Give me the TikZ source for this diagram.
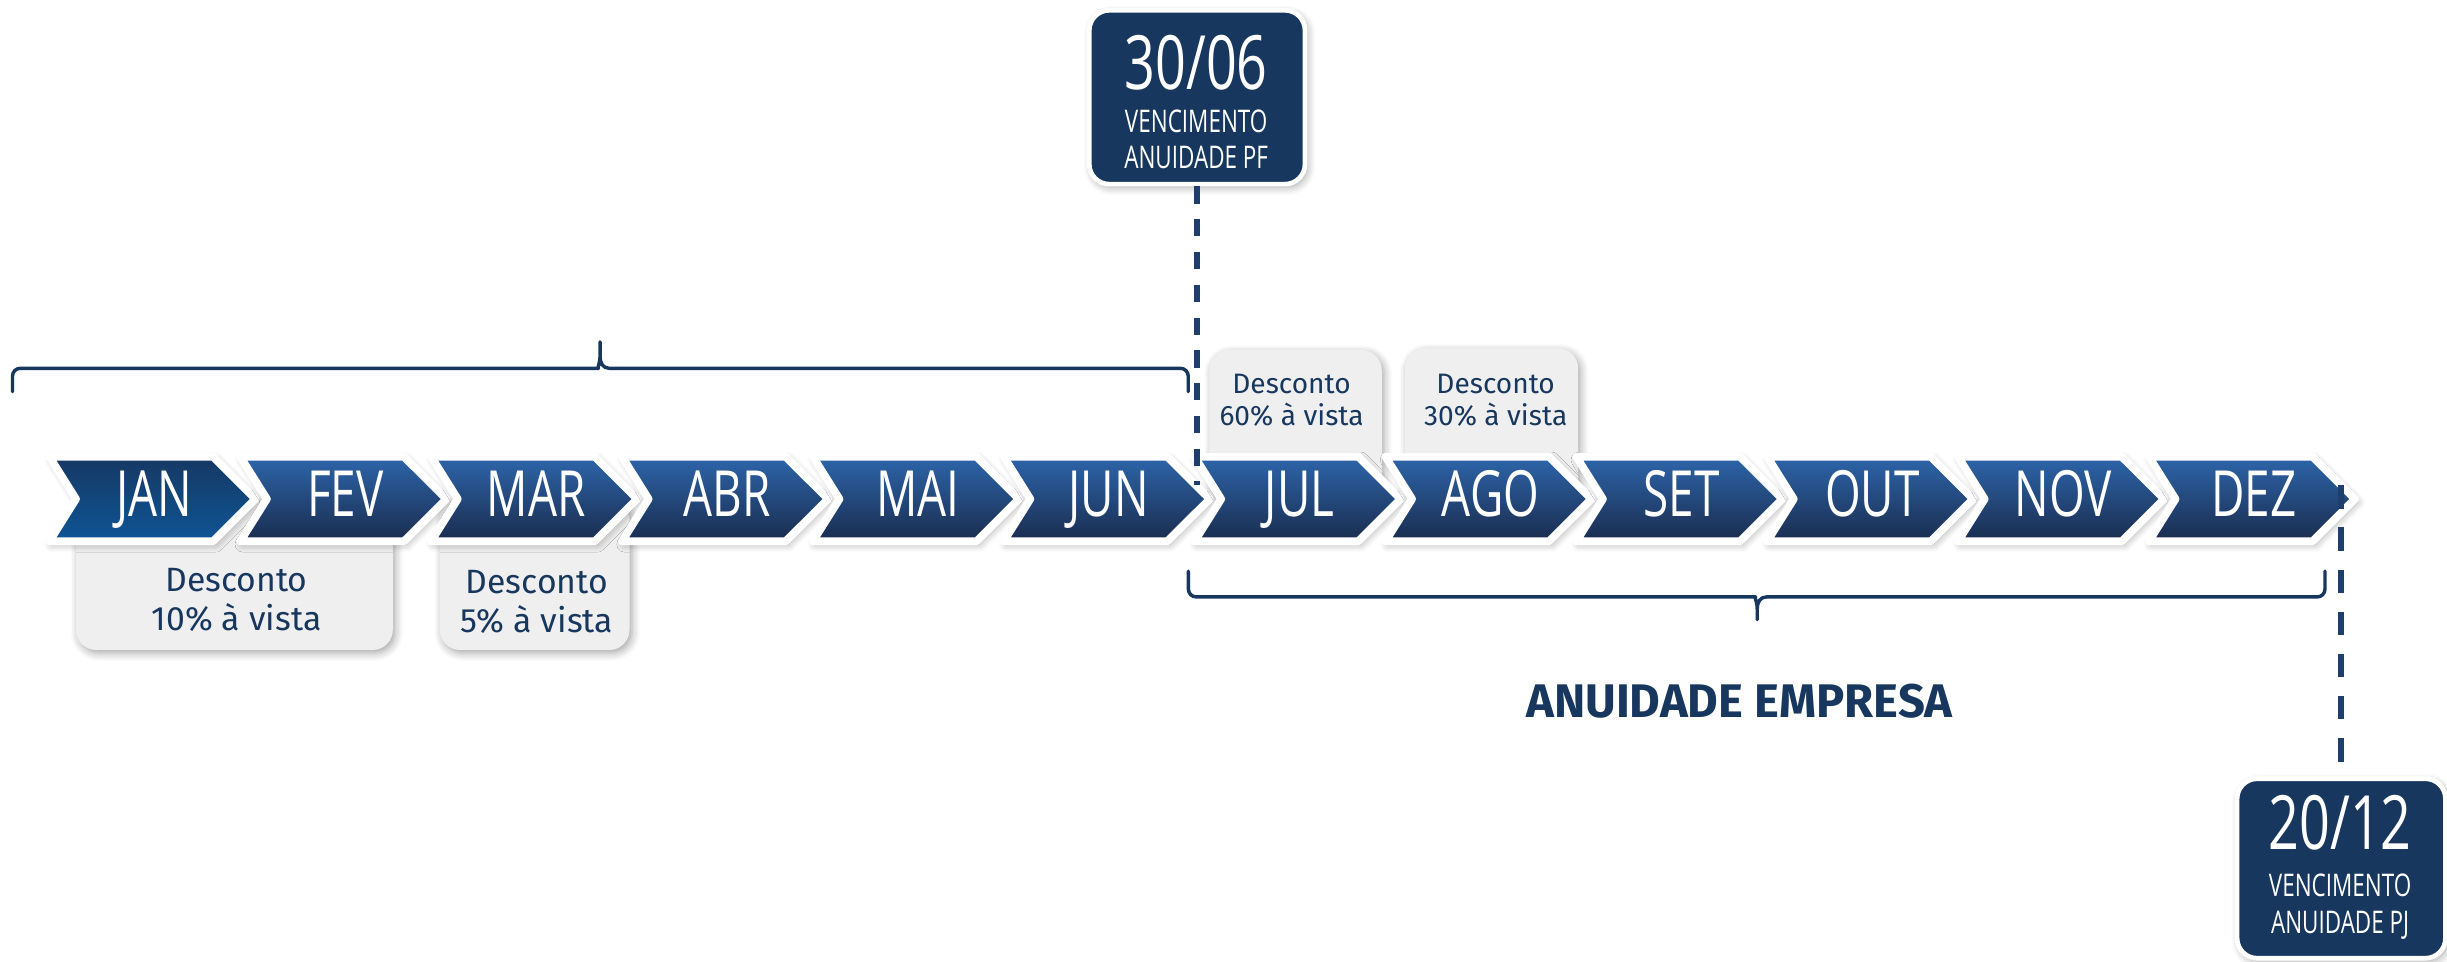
\documentclass[tikz,border=0pt]{standalone}
\usepackage{fontspec}
\setmainfont{Fira Sans}
\newfontfamily\condfont[FakeStretch=0.72]{Open Sans}
\newfontfamily\descfont{Fira Sans}
\usetikzlibrary{shadows.blur}

\definecolor{navy}{HTML}{17375E}
\definecolor{dashnavy}{HTML}{1D3F6E}
\definecolor{chevtop}{HTML}{2D65AA}
\definecolor{chevbot}{HTML}{1A2C4E}
\definecolor{jantop}{HTML}{163863}
\definecolor{janbot}{HTML}{0E5596}
\definecolor{boxgray}{HTML}{EFEFEF}

\tikzset{
 softshadow/.style={blur shadow={shadow xshift=0.8pt, shadow yshift=-1pt, shadow blur radius=2.5pt, shadow blur steps=6, shadow opacity=35}},
 chevron/.style={softshadow, draw=white, line width=2.5pt, line join=round, top color=chevtop, bottom color=chevbot},
 janchevron/.style={softshadow, draw=white, line width=2.5pt, line join=round, top color=jantop, bottom color=janbot},
 month/.style={font=\condfont\fontsize{20.4}{22}\selectfont, text=white, anchor=base, inner sep=0pt},
 descbox/.style={softshadow, fill=boxgray, rounded corners=6.5pt, inner sep=0pt, draw=none},
 desc/.style={font=\descfont\fontsize{10.8}{12}\selectfont, text=navy, anchor=base, inner sep=0pt},
 descsmall/.style={font=\descfont\fontsize{9}{10}\selectfont, text=navy, anchor=base, inner sep=0pt},
 datebox/.style={softshadow, fill=navy, draw=white, line width=1.5pt, rounded corners=6.4pt, inner sep=0pt},
 datebig/.style={font=\condfont\fontsize{24}{26}\selectfont, text=white, anchor=base, inner sep=0pt},
 datesmall/.style={font=\condfont\fontsize{10}{12}\selectfont, text=white, anchor=base, inner sep=0pt},
 bracket/.style={draw=navy, line width=1.1pt, line join=round, line cap=round},
 pfdash/.style={draw=dashnavy, line width=1.8pt, dash pattern=on 5.5pt off 5pt},
 pjdash/.style={draw=dashnavy, line width=1.8pt, dash pattern=on 7.5pt off 6pt},
 heading/.style={font=\descfont\bfseries\fontsize{15.1}{17}\selectfont, text=navy, anchor=base, inner sep=0pt},
}

\begin{document}
\begin{tikzpicture}[x=0.5pt, y=-0.5pt]
\useasboundingbox (0,0) rectangle (1568,616);

% discount boxes (behind the chevrons)
\node[descbox, minimum width=101.5pt, minimum height=48.25pt] (box1) at (150.2,368.25) {};
\node[descbox, minimum width=60.8pt, minimum height=48.25pt] (box2) at (342.6,368.25) {};
\node[descbox, minimum width=55.2pt, minimum height=47.85pt] (box3) at (830.2,272.15) {};
\node[descbox, minimum width=55.5pt, minimum height=48.4pt] (box4) at (955.8,271.6) {};

% chevrons
\path[janchevron] (31.7,292.7) -- (136.6,292.7) -- (163.7,319.75) -- (136.6,346.8) -- (31.7,346.8) -- (48.7,319.75) -- cycle;
\node[month] (JAN) at (99,330.7) {JAN};
\foreach \m [count=\i from 1] in {FEV,MAR,ABR,MAI,JUN,JUL,AGO,SET,OUT,NOV,DEZ} {
  \pgfmathsetmacro\L{34.2+122.3*\i}
  \path[chevron] (\L-2.5,292.7) -- (\L+102.4,292.7) -- (\L+129.5,319.75) -- (\L+102.4,346.8) -- (\L-2.5,346.8) -- (\L+14.5,319.75) -- cycle;
  \node[month] (\m) at (\L+64.8,330.7) {\m};
}

% discount texts
\node[desc] (d1a) at (151.6,379) {Desconto};
\node[desc] (d1b) at (151.6,403.7) {10\% à vista};
\node[desc] (d2a) at (344,380) {Desconto};
\node[desc] (d2b) at (344,405) {5\% à vista};
\node[descsmall] (d3a) at (827.6,252) {Desconto};
\node[descsmall] (d3b) at (827.6,272.4) {60\% à vista};
\node[descsmall] (d4a) at (958.4,252) {Desconto};
\node[descsmall] (d4b) at (958.4,272.4) {30\% à vista};

% brackets
\draw[bracket] (8,251) [rounded corners=2.5pt] -- (8,236) -- (378.5,236) [sharp corners]
  .. controls (382.5,236) and (384.5,233) .. (384.5,228) -- (384.5,219) -- (384.5,228)
  .. controls (384.5,233) and (386.5,236) .. (390.5,236) [rounded corners=2.5pt] -- (761.4,236) -- (761.4,251);
\draw[bracket] (761.5,366) [rounded corners=2.5pt] -- (761.5,382.5) -- (1120,382.5) [sharp corners]
  .. controls (1124,382.5) and (1126,385.5) .. (1126,390.5) -- (1126,397) -- (1126,390.5)
  .. controls (1126,385.5) and (1128,382.5) .. (1132,382.5) [rounded corners=2.5pt] -- (1489.8,382.5) -- (1489.8,366);

\node[heading] (empresa) at (1114.6,460) {ANUIDADE EMPRESA};

% date boxes
\node[datebox, minimum width=69.1pt, minimum height=55.7pt] (pf) at (767.1,62.3) {};
\node[datebig] (pfdate) at (766.5,57.6) {30/06};
\node[datesmall] (pfl1) at (766.5,85) {VENCIMENTO};
\node[datesmall] (pfl2) at (766.5,108) {ANUIDADE PF};

\node[datebox, minimum width=66.75pt, minimum height=57.5pt] (pj) at (1500.25,556.5) {};
\node[datebig] (pjdate) at (1499.5,544.6) {20/12};
\node[datesmall] (pjl1) at (1499.5,574.6) {VENCIMENTO};
\node[datesmall] (pjl2) at (1499.5,598) {ANUIDADE PJ};

% dashed connectors
\coordinate (pfend) at (767.1,311);
\coordinate (pjstart) at (1500.25,311);
\draw[pfdash] (pf.south) -- (pfend);
\draw[pjdash] (pjstart) -- (pj.north);
\end{tikzpicture}
\end{document}
